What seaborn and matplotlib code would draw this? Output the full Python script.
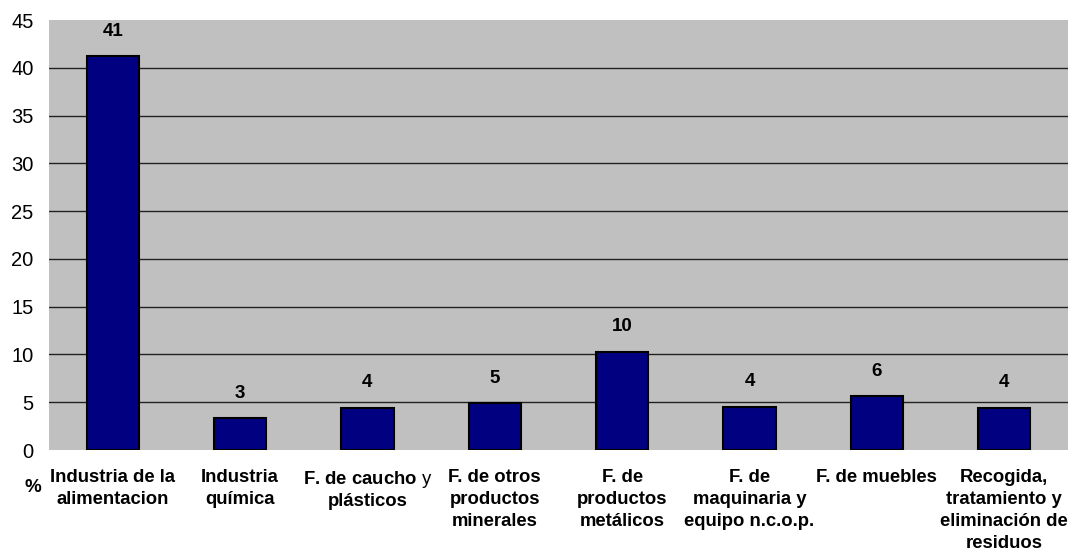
import matplotlib
matplotlib.use("Agg")
import matplotlib.pyplot as plt
import seaborn as sns
import pandas as pd

categories = [
    "Industria de la\nalimentacion",
    "Industria\nquímica",
    "F. de caucho $\\mathrm{y}$\nplásticos",
    "F. de otros\nproductos\nminerales",
    "F. de\nproductos\nmetálicos",
    "F. de\nmaquinaria y\nequipo n.c.o.p.",
    "F. de muebles",
    "Recogida,\ntratamiento y\neliminación de\nresiduos",
]
values = [41.2, 3.3, 4.4, 4.9, 10.3, 4.5, 5.6, 4.4]
value_labels = ["41", "3", "4", "5", "10", "4", "6", "4"]
yticks = [0, 5, 10, 15, 20, 25, 30, 35, 40, 45]

sns.set_theme(style="white")
plt.rcParams["font.family"] = ["Liberation Sans", "DejaVu Sans"]
plt.rcParams["mathtext.fontset"] = "custom"
plt.rcParams["mathtext.rm"] = "Liberation Sans"

df = pd.DataFrame({"cat": categories, "val": values})

fig = plt.figure(figsize=(10.84, 5.58), dpi=100)
ax = fig.add_axes([49 / 1084, 108 / 558, (1068 - 49) / 1084, (450 - 20) / 558])
ax.set_facecolor("#C0C0C0")

sns.barplot(data=df, x="cat", y="val", color="#000080", width=0.41,
            edgecolor="black", linewidth=1.5, saturation=1, ax=ax, zorder=3)

ax.set_ylim(0, 45)
ax.set_yticks(yticks)
ax.set_yticklabels([str(t) for t in yticks], fontsize=14.5, color="black")
for t in yticks[1:-1]:
    ax.axhline(t, color="#222222", linewidth=1, zorder=1)

ax.tick_params(axis="both", length=0)
ax.tick_params(axis="y", pad=11)
ax.tick_params(axis="x", pad=14)
for lbl in ax.get_xticklabels():
    lbl.set_fontweight("bold")
    lbl.set_fontsize(13.3)
    lbl.set_color("black")
    lbl.set_linespacing(1.17 if "$" in lbl.get_text() else 1.38)
    lbl.set_verticalalignment("top")

for sp in ax.spines.values():
    sp.set_visible(False)
ax.set_xlabel("")
ax.set_ylabel("")

for i, (v, lab) in enumerate(zip(values, value_labels)):
    ax.annotate(lab, (i, v), xytext=(0, 12), textcoords="offset points",
                ha="center", va="bottom", fontsize=13.5, fontweight="bold", color="black")

fig.text(33 / 1084, 1 - 487 / 558, "%", ha="center", va="center",
         fontsize=13.5, fontweight="bold", color="black")

fig.savefig("out.png", dpi=100, facecolor="white")
